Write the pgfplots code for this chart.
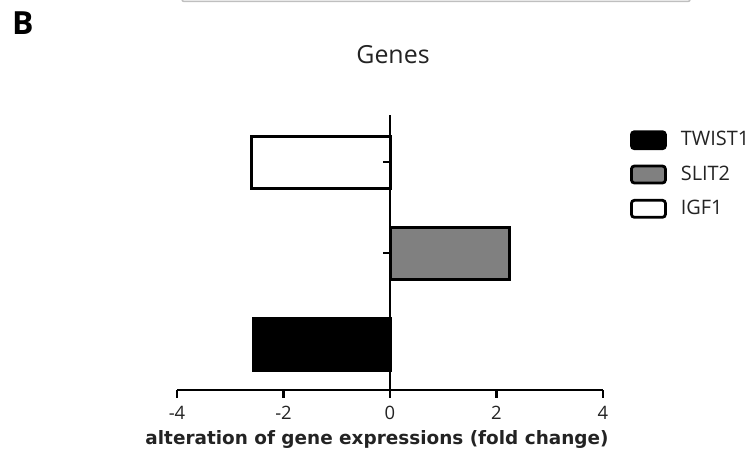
\documentclass[border=0pt]{standalone}
\usepackage{pgfplots}
\pgfplotsset{compat=1.18}
\usepackage{fontspec}
\setmainfont{Open Sans}
\newfontfamily\labfont{DejaVu Sans}
\definecolor{slitgray}{RGB}{128,128,128}
\definecolor{txt}{RGB}{35,35,35}
\begin{document}
\begin{tikzpicture}[x=1bp,y=1bp]
\path[use as bounding box] (0,0) rectangle (754,458);
\draw[black!25, line width=1.5bp, rounded corners=2bp] (182,460) -- (182,456.5) -- (690,456.5) -- (690,460);
\node[font=\fontsize{32}{36}\selectfont\bfseries, anchor=base west, inner sep=0pt] at (12,423) {B};
\node[font=\fontsize{25}{30}\selectfont, text=txt, anchor=base, inner sep=0pt] at (393,394) {Genes};
\begin{axis}[
  at={(177bp,68bp)}, anchor=south west,
  scale only axis, width=426bp, height=275bp,
  xmin=-4, xmax=4, ymin=-0.5, ymax=2.52,
  axis x line=bottom, axis y line=none,
  x axis line style={-, line width=2.8bp},
  xtick={-4,-2,0,2,4}, xticklabels={-4,-2,0,2,4},
  xtick align=outside, major tick length=8bp,
  xtick style={line width=2.8bp, black},
  xticklabel style={font=\fontsize{18.5}{22}\selectfont, text=txt, inner sep=0pt,
    anchor=base, yshift=-22bp},
  ytick=\empty,
  xlabel={alteration of gene expressions (fold change)},
  xlabel style={font=\labfont\bfseries\fontsize{18.5}{22}\selectfont, text=txt,
    at={(axis description cs:0.4695,0)}, anchor=base, yshift=-55bp},
  clip=false,
  legend style={at={(1.063,0.945)}, anchor=north west, draw=none, fill=none,
    inner sep=0pt, row sep=14.5bp, font=\fontsize{20}{24}\selectfont, text=txt,
    nodes={inner sep=0pt, text height=15bp, text depth=4bp}},
  legend cell align=left,
  mylegend/.style={legend image code/.code={
    \draw[##1, line width=2.8bp, rounded corners=3bp] (0bp,-8.5bp) rectangle (34bp,8.5bp);}},
]
\addplot[xbar, bar width=52bp, bar shift=0pt, draw=black, fill=black, line width=3bp, mylegend]
  coordinates {(-2.56,0)};
\addlegendentry{\hspace{14bp}TWIST1}
\addplot[xbar, bar width=52bp, bar shift=0pt, draw=black, fill=slitgray, line width=3bp, mylegend]
  coordinates {(2.25,1)};
\addlegendentry{\hspace{14bp}SLIT2}
\addplot[xbar, bar width=52bp, bar shift=0pt, draw=black, fill=white, line width=3bp, mylegend]
  coordinates {(-2.6,2)};
\addlegendentry{\hspace{14bp}IGF1}
\draw[line width=2.8bp] (axis cs:0,-0.5) -- (axis cs:0,2.52);
\draw[line width=2bp] ([xshift=-7bp]axis cs:0,1) -- (axis cs:0,1);
\draw[line width=2bp] ([xshift=-7bp]axis cs:0,2) -- (axis cs:0,2);
\end{axis}
\end{tikzpicture}
\end{document}
